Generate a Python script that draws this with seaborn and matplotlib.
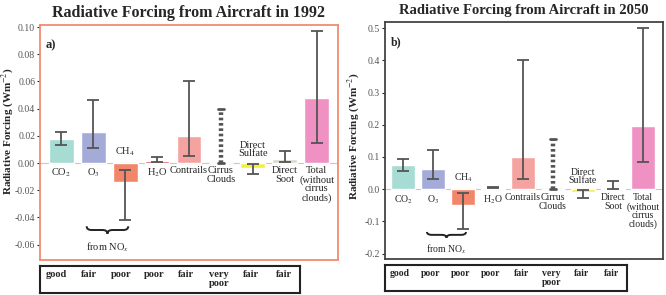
import seaborn as sns
import matplotlib.pyplot as plt
import matplotlib.patches as mpatches
from matplotlib.path import Path
import numpy as np
import pandas as pd

sns.set_theme(style="white")
plt.rcParams['font.family'] = ['Liberation Serif', 'DejaVu Serif']
plt.rcParams['mathtext.fontset'] = 'stix'

# ---- data ----
categories = ["CO2", "O3", "CH4", "H2O", "Contrails", "Cirrus", "Sulfate", "Soot", "Total"]
cat_labels = ["CO$_2$", "O$_3$", "", "H$_2$O", "Contrails", "Cirrus\nClouds", "",
              "Direct\nSoot", "Total\n(without\ncirrus\nclouds)"]
colors = ["#a6dcd3", "#a5abd9", "#f3866a", "#d23a4e", "#f4a3a1", "#ffffff",
          "#f4ef3c", "#d9d9cf", "#ef92c3"]

rf_1992 = [0.018, 0.023, -0.014, 0.0015, 0.020, 0.0, -0.004, 0.003, 0.048]
lo_1992 = [0.013, 0.011, -0.042, 0.0008, 0.005, 0.0, -0.008, 0.001, 0.015]
hi_1992 = [0.023, 0.046, -0.005, 0.0045, 0.060, 0.040, -0.001, 0.009, 0.097]

rf_2050 = [0.074, 0.062, -0.050, 0.004, 0.100, 0.0, -0.008, 0.004, 0.195]
lo_2050 = [0.055, 0.030, -0.125, 0.002, 0.030, 0.0, -0.028, 0.000, 0.085]
hi_2050 = [0.095, 0.120, -0.012, 0.008, 0.400, 0.155, -0.002, 0.025, 0.500]

quality_1992 = ["good", "fair", "poor", "poor", "fair", "very\npoor", "fair", "fair"]
quality_2050 = ["good", "poor", "poor", "poor", "fair", "very\npoor", "fair", "fair"]

W, H = 666, 295


def px_axes(fig, x0, y0, x1, y1):
    return fig.add_axes([x0 / W, (H - y1) / H, (x1 - x0) / W, (y1 - y0) / H])


def brace(ax, x0, x1, y, h):
    xm = (x0 + x1) / 2
    q = (x1 - x0) * 0.12
    m = y - h / 2
    verts = [(x0, y), (x0, m), (x0 + q, m), (xm - q, m), (xm, m), (xm, y - h),
             (xm, m), (xm + q, m), (x1 - q, m), (x1, m), (x1, y)]
    codes = [Path.MOVETO, Path.CURVE3, Path.CURVE3, Path.LINETO, Path.CURVE3,
             Path.CURVE3, Path.CURVE3, Path.CURVE3, Path.LINETO, Path.CURVE3,
             Path.CURVE3]
    ax.add_patch(mpatches.PathPatch(Path(verts, codes), fill=False, lw=1.4,
                                    color="#222222", clip_on=False))


def panel(fig, box, qbox, vals, lo, hi, quality, ylim, xlim, yticks, fmt,
          title, tag, frame_color, lab_y, ch4_y, sulf_y, brace_y, brace_h,
          nox_y, fs, tick_fs, title_fs, ylab_xy, ylab_fs):
    ax = px_axes(fig, *box)
    df = pd.DataFrame({"cat": categories, "rf": vals})
    sns.barplot(data=df, x="cat", y="rf", hue="cat", palette=colors,
                legend=False, width=0.78, ax=ax, saturation=1)
    v = np.array(vals)
    for i in range(len(categories)):
        if categories[i] == "Cirrus":
            ax.plot([i, i], [lo[i], hi[i]], color="#555555", lw=3.2,
                    ls=(0, (0.6, 0.6)))
            ax.plot([i - 0.1, i + 0.1], [hi[i], hi[i]], color="#555555", lw=2)
            ax.plot([i - 0.1, i + 0.1], [lo[i], lo[i]], color="#555555", lw=2)
            continue
        ax.errorbar(i, v[i], yerr=[[v[i] - lo[i]], [hi[i] - v[i]]], fmt="none",
                    ecolor="#555555", elinewidth=1.3, capsize=4, capthick=1.3)
    ax.axhline(0, color="#c8c8c8", lw=0.8, zorder=0)
    ax.set_ylim(*ylim)
    ax.set_xlim(*xlim)
    ax.set_yticks(yticks)
    ax.set_yticklabels([fmt.format(t) for t in yticks], fontsize=tick_fs,
                       color="#555555")
    ax.set_xticks([])
    ax.set_xlabel("")
    ax.set_ylabel("Radiative Forcing (Wm$^{-2}$)", fontsize=ylab_fs,
                  fontweight="bold")
    ax.yaxis.set_label_coords(*ylab_xy)
    ax.tick_params(axis="y", length=2, width=0.8, pad=1.5, left=True)
    for s in ax.spines.values():
        s.set_color(frame_color)
        s.set_linewidth(1.3)
    ax.set_title(title, fontsize=title_fs, fontweight="bold", pad=6)
    ax.text(0.02, 0.94, tag, transform=ax.transAxes, fontsize=fs + 1.5,
            fontweight="bold", va="top")
    for i, lab in enumerate(cat_labels):
        if lab:
            ax.text(i, lab_y, lab, ha="center", va="top", fontsize=fs,
                    linespacing=0.95)
    ax.text(2, ch4_y, "CH$_4$", ha="center", va="bottom", fontsize=fs)
    ax.text(6, sulf_y, "Direct\nSulfate", ha="center", va="bottom",
            fontsize=fs, linespacing=0.95)
    brace(ax, 0.8, 2.1, brace_y, brace_h)
    ax.text(1.45, nox_y, "from NO$_x$", ha="center", va="center", fontsize=fs)

    qa = px_axes(fig, *qbox)
    qa.set_xlim(-0.5, len(quality) - 0.5)
    qa.set_ylim(0, 1)
    qa.set_xticks([])
    qa.set_yticks([])
    for s in qa.spines.values():
        s.set_color("#222222")
        s.set_linewidth(1.5)
    for i, q in enumerate(quality):
        qa.text(i, 0.85, q, ha="center", va="top", fontsize=fs,
                fontweight="bold", linespacing=0.95)
    return ax


fig = plt.figure(figsize=(W / 100, H / 100), dpi=100)

# left panel: axes 40..338 px
panel(fig, (40, 25, 338, 260), (40, 266, 300, 293), rf_1992, lo_1992, hi_1992,
      quality_1992, (-0.0713, 0.1015), (-0.66, 8.66),
      [-0.06, -0.04, -0.02, 0.0, 0.02, 0.04, 0.06, 0.08, 0.10], "{:.2f}",
      "Radiative Forcing from Aircraft in 1992", "a)", "#ee8e70",
      -0.0025, 0.0035, 0.0035, -0.0465, 0.0055, -0.062, 7.5, 7, 11.5,
      (-0.081, 0.55), 8)

# right panel: axes 385..663 px
panel(fig, (385, 22, 663, 259), (385, 265, 627, 291), rf_2050, lo_2050, hi_2050,
      quality_2050, (-0.217, 0.519), (-0.6, 8.67),
      [-0.2, -0.1, 0.0, 0.1, 0.2, 0.3, 0.4, 0.5], "{:.1f}",
      "Radiative Forcing from Aircraft in 2050", "b)", "#444444",
      -0.013, 0.017, 0.012, -0.133, 0.018, -0.186, 7, 7, 10.5,
      (-0.083, 0.52), 8)

fig.savefig("out.png", dpi=100)
